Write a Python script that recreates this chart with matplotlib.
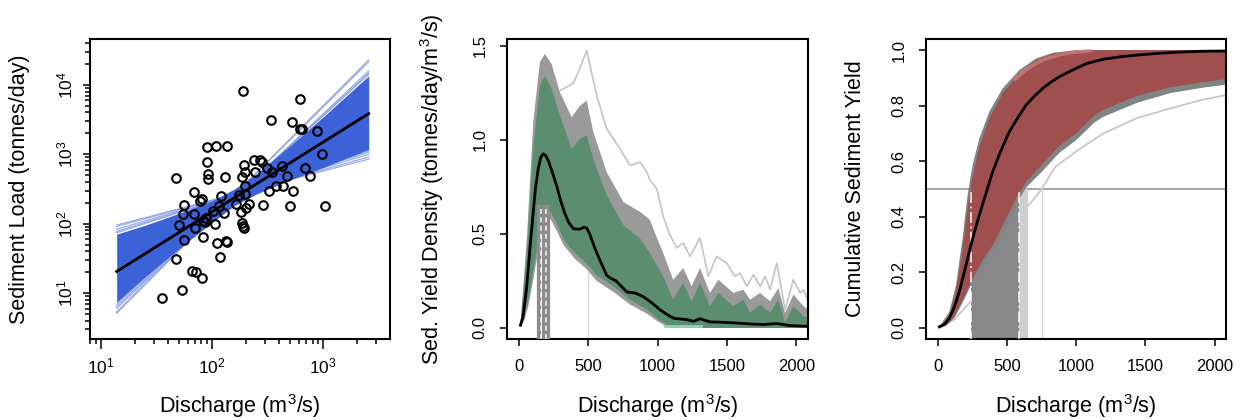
import numpy as np
import matplotlib
matplotlib.use("Agg")
import matplotlib.pyplot as plt
from matplotlib.ticker import FixedLocator, NullFormatter

plt.rcParams['font.family'] = ['Liberation Sans', 'DejaVu Sans']
plt.rcParams['mathtext.fontset'] = 'custom'
plt.rcParams['mathtext.rm'] = 'Liberation Sans'
plt.rcParams['mathtext.it'] = 'Liberation Sans:italic'
plt.rcParams['mathtext.bf'] = 'Liberation Sans:bold'

# ---------------- sediment rating curve ----------------
obs_discharge = [191, 612, 336, 522, 612, 638, 883, 89.5, 109, 136, 980, 89.5, 194, 237,
                 267, 280, 313, 421, 689, 90.8, 197, 242, 347, 471, 764, 47.4, 90.8, 130,
                 185, 198, 375, 434, 530, 68.9, 80.7, 120, 173, 198, 327, 55.2, 78, 164,
                 214, 288, 501, 1042, 116, 101, 127, 182, 202, 54.4, 68.9, 88.3, 49.8,
                 82.4, 85.9, 106, 185, 191, 194, 69.3, 55.2, 82.4, 110, 132, 136, 47.4,
                 118, 66.1, 71.8, 80.7, 53.3, 35.2]
obs_load = [8110, 6280, 3160, 2900, 2345, 2345, 2190, 1262, 1303, 1334, 1000, 783, 702, 819,
            819, 783, 635, 687, 643, 520, 562, 562, 550, 492, 492, 456, 441, 466,
            466, 345, 353, 345, 292, 290, 230, 248, 262, 271, 299, 188, 210, 192,
            192, 188, 182, 182, 178, 151, 143, 149, 168, 138, 138, 121, 96.8,
            108, 105, 100, 102, 91.6, 85.7, 86.6, 58.8, 64.3, 52.6, 55.6, 54.4, 30.9,
            33.0, 21.2, 19.9, 16.8, 11.2, 8.5]

fit_discharge = [13.8, 2560]
fit_load = [20.5, 3855]

band_discharge = [13.8, 25.1, 50.1, 100, 158, 251, 501, 1000, 1585, 2560]
band_load_upper = [70.8, 95.5, 141, 214, 316, 525, 1318, 3467, 6761, 13490]
band_load_lower = [7.4, 17.4, 43.7, 105, 182, 269, 427, 646, 871, 1175]

edge_load_start = [95.5, 91.2, 83.2, 77.6, 74.1, 5.13, 5.37, 6.03, 6.46, 6.92]
edge_load_end = [851, 912, 1000, 1072, 1122, 22909, 21380, 15849, 14791, 14125]

# ---------------- sediment yield density ----------------
dens_top_x = [12, 60, 104, 152, 188, 236, 296, 381, 441, 489, 537, 633, 754, 874, 944,
              994, 1040, 1112, 1184, 1245, 1305, 1377, 1437, 1545, 1617, 1666, 1738,
              1810, 1870, 1918, 1978, 2051, 2100]
dens_grey_top = [0.02, 0.50, 1.093, 1.412, 1.456, 1.403, 1.253, 1.12, 1.18, 1.208, 1.04,
                 0.828, 0.669, 0.616, 0.575, 0.48, 0.398, 0.256, 0.318, 0.221, 0.318,
                 0.186, 0.256, 0.186, 0.203, 0.150, 0.186, 0.141, 0.212, 0.080, 0.177,
                 0.115, 0.09]
dens_green_top = [0.015, 0.42, 0.952, 1.288, 1.341, 1.27, 1.128, 0.952, 1.005, 1.022,
                  0.899, 0.704, 0.545, 0.474, 0.398, 0.332, 0.274, 0.150, 0.239, 0.141,
                  0.239, 0.115, 0.186, 0.115, 0.150, 0.080, 0.124, 0.080, 0.150, 0.027,
                  0.115, 0.062, 0.05]

dens_low_x = [12, 40, 70, 100, 130, 160, 190, 227, 270, 323, 400, 491, 560, 684, 800,
              924, 1000, 1069, 1100, 2100]
dens_green_low = [0.01, 0.06, 0.15, 0.28, 0.42, 0.53, 0.60, 0.62, 0.56, 0.47, 0.40,
                  0.34, 0.28, 0.22, 0.15, 0.097, 0.05, 0.015, 0.0, 0.0]
dens_grey_low = [0.005, 0.04, 0.12, 0.24, 0.37, 0.48, 0.55, 0.58, 0.52, 0.44, 0.37,
                 0.31, 0.25, 0.19, 0.125, 0.075, 0.035, 0.005, 0.0, 0.0]

dens_med_x = [12, 30, 56, 80, 104, 120, 140, 158, 176, 194, 212, 240, 272, 300, 332,
              360, 393, 420, 440, 470, 489, 510, 530, 549, 590, 633, 660, 700, 740, 778,
              840, 898, 944, 980, 1016, 1050, 1088, 1120, 1160, 1209, 1260, 1305, 1340,
              1377, 1460, 1545, 1666, 1760, 1858, 1955, 2100]
dens_median = [0.014, 0.06, 0.21, 0.42, 0.616, 0.74, 0.846, 0.905, 0.925, 0.915, 0.89,
               0.83, 0.757, 0.68, 0.607, 0.56, 0.527, 0.525, 0.525, 0.535, 0.531, 0.50,
               0.46, 0.421, 0.35, 0.279, 0.265, 0.25, 0.22, 0.191, 0.185, 0.165, 0.141,
               0.12, 0.097, 0.08, 0.062, 0.05, 0.048, 0.044, 0.035, 0.049, 0.04, 0.032,
               0.03, 0.027, 0.021, 0.018, 0.023, 0.012, 0.008]

dens_out_x = [296, 393, 440, 489, 561, 633, 729, 801, 874, 922, 944, 994, 1040, 1088,
              1137, 1184, 1233, 1305, 1365, 1425, 1497, 1557, 1594, 1642, 1690, 1738,
              1774, 1810, 1858, 1918, 1978, 2027, 2051, 2100]
dens_outlier = [1.26, 1.30, 1.38, 1.474, 1.235, 1.058, 0.952, 0.863, 0.88, 0.828,
                0.787, 0.739, 0.592, 0.495, 0.425, 0.451, 0.380, 0.478, 0.274, 0.380,
                0.345, 0.274, 0.292, 0.221, 0.283, 0.221, 0.274, 0.203, 0.345, 0.097,
                0.256, 0.186, 0.203, 0.11]

dens_peak_q = [140, 152, 171, 188, 200, 219]
dens_peak_q_dashed = [160, 195]
dens_peak_top = 0.65

# ---------------- cumulative sediment yield ----------------
cum_up_x = [12, 84, 132, 180, 216, 252, 301, 373, 469, 589, 710, 830, 998, 1200, 2100]
cum_grey_upper = [0.004, 0.058, 0.153, 0.322, 0.478, 0.586, 0.682, 0.778, 0.862, 0.928,
                  0.97, 0.99, 1.0, 1.0, 1.0]
cum_red_upper = [0.003, 0.045, 0.125, 0.28, 0.43, 0.545, 0.65, 0.755, 0.845, 0.915,
                 0.962, 0.987, 0.998, 1.0, 1.0]

cum_low_x = [12, 60, 120, 180, 252, 320, 397, 480, 565, 638, 758, 878, 998, 1133, 1196,
             1437, 1677, 1918, 2100]
cum_red_lower = [0.002, 0.01, 0.04, 0.10, 0.178, 0.24, 0.297, 0.38, 0.466, 0.526, 0.59,
                 0.655, 0.70, 0.765, 0.785, 0.835, 0.866, 0.885, 0.897]
cum_grey_lower = [0.001, 0.008, 0.035, 0.09, 0.165, 0.225, 0.28, 0.36, 0.445, 0.505,
                  0.565, 0.63, 0.675, 0.74, 0.76, 0.81, 0.845, 0.865, 0.877]

cum_med_x = [12, 50, 84, 120, 156, 192, 228, 264, 300, 350, 397, 450, 517, 580, 638,
             700, 758, 818, 878, 940, 998, 1076, 1196, 1317, 1437, 1557, 1677, 1798,
             1918, 2100]
cum_median = [0.004, 0.013, 0.034, 0.075, 0.130, 0.200, 0.274, 0.342, 0.405, 0.486,
              0.562, 0.630, 0.706, 0.758, 0.802, 0.835, 0.862, 0.885, 0.904, 0.920,
              0.934, 0.952, 0.967, 0.976, 0.982, 0.987, 0.991, 0.994, 0.996, 0.997]

cum_out_x = [20, 120, 230, 330, 420, 520, 604, 680, 748, 850, 1012, 1196, 1437, 1677,
             1900, 2100]
cum_outlier = [0.0, 0.03, 0.09, 0.16, 0.24, 0.33, 0.414, 0.455, 0.498, 0.58, 0.64, 0.70,
               0.755, 0.79, 0.82, 0.84]

cum_pink_x = [560, 640, 720, 800, 900, 1000, 1100]
cum_pink = [0.895, 0.93, 0.955, 0.972, 0.985, 0.993, 0.997]

half_yield_q = [240, 589]        # discharge range where the cumulative yield reaches 0.5
half_yield_q_light = [589, 650]
half_yield_q_outlier = 755

# ---------------- figure ----------------
fig = plt.figure(figsize=(12.42, 4.2), dpi=100)
bottom, height = 81 / 420, 300 / 420
ax1 = fig.add_axes([90 / 1242, bottom, 300 / 1242, height])
ax2 = fig.add_axes([507 / 1242, bottom, 301 / 1242, height])
ax3 = fig.add_axes([926 / 1242, bottom, 300 / 1242, height])

LABEL_FS = 15.5
TICK_FS = 12


def style(ax, pad=9, labelsize=TICK_FS):
    for s in ax.spines.values():
        s.set_linewidth(1.5)
    ax.tick_params(which='major', direction='out', length=5.2, width=1.1,
                   labelsize=labelsize, pad=pad)
    ax.tick_params(which='minor', direction='out', length=3.5, width=1.1)
    ax.tick_params(axis='y', labelrotation=90)


# ---- panel 1: rating curve on log-log axes
ax1.set_xscale('log')
ax1.set_yscale('log')
for a, b in zip(edge_load_start, edge_load_end):
    ax1.plot(fit_discharge, [a, b], color='#8ea2e8', lw=0.9, alpha=0.9, zorder=1)
ax1.fill_between(band_discharge, band_load_lower, band_load_upper,
                 color='#3c62d8', lw=0, zorder=2)
ax1.plot(fit_discharge, fit_load, color='black', lw=2.0, zorder=3)
ax1.plot(obs_discharge, obs_load, 'o', ms=6.2, mfc='none', mec='black', mew=1.5,
         zorder=4)
ax1.set_xlim(10 ** 0.90, 10 ** 3.60)
ax1.set_ylim(10 ** 0.34, 10 ** 4.66)
ax1.set_xticks([10, 100, 1000])
ax1.set_yticks([10, 100, 1000, 10000])
x_minor = [m * d for d in (1, 10, 100, 1000) for m in range(2, 10)]
y_minor = [m * d for d in (1, 10, 100, 1000, 10000) for m in range(2, 10)]
ax1.xaxis.set_minor_locator(FixedLocator(x_minor))
ax1.yaxis.set_minor_locator(FixedLocator(y_minor))
ax1.xaxis.set_minor_formatter(NullFormatter())
ax1.yaxis.set_minor_formatter(NullFormatter())
style(ax1, pad=5, labelsize=12.5)
ax1.tick_params(axis='x', which='major', length=7.5)
ax1.set_xlabel('Discharge (m$^{3}$/s)', fontsize=LABEL_FS, va='baseline')
ax1.xaxis.set_label_coords(0.5, -74 / 300)
ax1.set_ylabel('Sediment Load (tonnes/day)', fontsize=LABEL_FS, va='baseline')
ax1.yaxis.set_label_coords(-65 / 300, 0.5)

# ---- panel 2: sediment yield density
ax2.plot([500, 500], [-0.06, 0.53], color='#d8d8d8', lw=1.0, zorder=0.5)
ax2.fill(dens_top_x + dens_low_x[::-1], dens_grey_top + dens_grey_low[::-1],
         color='#9a9a9a', lw=0, zorder=1)
ax2.plot(dens_out_x, dens_outlier, color='#c4c4c4', lw=1.2, zorder=1.5)
ax2.fill(dens_top_x + dens_low_x[::-1], dens_green_top + dens_green_low[::-1],
         color='#5b8e6f', lw=0, zorder=2)
ax2.plot([1050, 1310], [0.008, 0.008], color='#8fd2bd', lw=2.0, zorder=2.5)
for q in dens_peak_q:
    ax2.plot([q, q], [-0.06, dens_peak_top], color='#8c8c8c', lw=1.6, zorder=3)
for q in dens_peak_q_dashed:
    ax2.plot([q, q], [-0.06, dens_peak_top], color='white', lw=1.2,
             ls=(0, (3, 2)), alpha=0.85, zorder=3.2)
ax2.plot(dens_med_x, dens_median, color='black', lw=2.0, zorder=4,
         solid_joinstyle='round')
ax2.set_xlim(-85, 2083)
ax2.set_ylim(-0.059, 1.535)
ax2.set_xticks([0, 500, 1000, 1500, 2000])
ax2.set_yticks([0.0, 0.5, 1.0, 1.5])
ax2.set_yticklabels(['0.0', '0.5', '1.0', '1.5'])
style(ax2)
ax2.set_xlabel('Discharge (m$^{3}$/s)', fontsize=LABEL_FS, va='baseline')
ax2.xaxis.set_label_coords(0.5, -74 / 300)
ax2.set_ylabel('Sed. Yield Density (tonnes/day/m$^{3}$/s)', fontsize=LABEL_FS,
               va='baseline')
ax2.yaxis.set_label_coords(-68 / 301, 0.5)

# ---- panel 3: cumulative sediment yield
ax3.axhline(0.5, color='#a8a8a8', lw=1.5, zorder=1)
ax3.plot([half_yield_q_outlier] * 2, [-0.05, 0.5], color='#d0d0d0', lw=1.0, zorder=1)
ax3.plot(cum_out_x, cum_outlier, color='#c4c4c4', lw=1.2, zorder=1.05)
ax3.fill_between(half_yield_q_light, -0.05, 0.5, color='#cfcfcf', lw=0, zorder=1.1)
ax3.fill_between(half_yield_q, -0.05, 0.5, color='#888888', lw=0, zorder=1.2)
ax3.fill(cum_up_x + cum_low_x[::-1], cum_grey_upper + cum_grey_lower[::-1],
         color='#7f8585', lw=0, zorder=2)
ax3.fill(cum_up_x + cum_low_x[::-1], cum_red_upper + cum_red_lower[::-1],
         color='#a04f4f', lw=0, zorder=2.2)
ax3.plot(cum_pink_x, cum_pink, color='#d07a78', lw=2.5, alpha=0.8, zorder=2.3)
for q in half_yield_q:
    ax3.plot([q, q], [-0.05, 0.5], color='white', lw=1.3, ls=(0, (6, 2, 1, 2)),
             alpha=0.8, zorder=3)
ax3.plot(cum_med_x, cum_median, color='black', lw=2.0, zorder=4)
ax3.set_xlim(-84, 2081)
ax3.set_ylim(-0.04, 1.04)
ax3.set_xticks([0, 500, 1000, 1500, 2000])
ax3.set_yticks([0.0, 0.2, 0.4, 0.6, 0.8, 1.0])
ax3.set_yticklabels(['0.0', '0.2', '0.4', '0.6', '0.8', '1.0'])
style(ax3)
ax3.set_xlabel('Discharge (m$^{3}$/s)', fontsize=LABEL_FS, va='baseline')
ax3.xaxis.set_label_coords(0.5, -74 / 300)
ax3.set_ylabel('Cumulative Sediment Yield', fontsize=LABEL_FS, va='baseline')
ax3.yaxis.set_label_coords(-65 / 300, 0.5)

for ax in (ax1, ax2, ax3):
    plt.setp(ax.get_yticklabels(), va='center')

fig.savefig('out.png', dpi=100)
